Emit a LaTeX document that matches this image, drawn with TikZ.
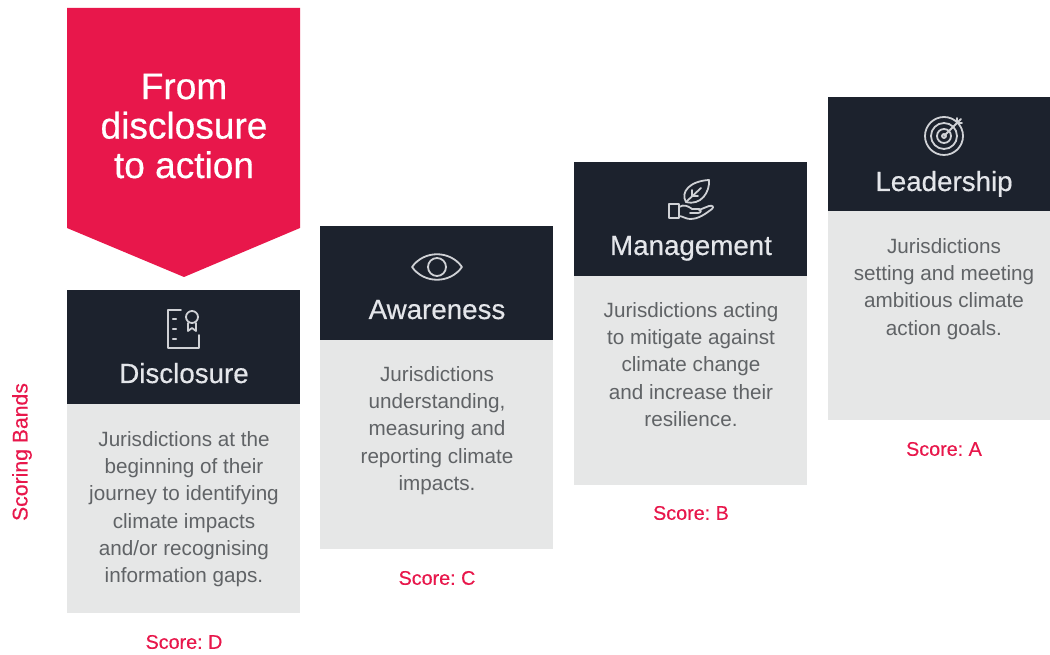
\documentclass[tikz,border=0pt]{standalone}
\usepackage{fontspec}
\setmainfont{Liberation Sans}
\newfontfamily\medfont[FakeBold=0.5]{Liberation Sans}
\newfontfamily\semifont[FakeBold=0.3]{Liberation Sans}
\frenchspacing
\definecolor{navy}{HTML}{1C222D}
\definecolor{panel}{HTML}{E6E7E7}
\definecolor{crimson}{HTML}{E8174B}
\definecolor{bodytxt}{HTML}{606366}
\definecolor{headtxt}{HTML}{E4E6EA}
\definecolor{iconc}{HTML}{CFD1D5}
\tikzset{
 x=0.75pt,y=-0.75pt,
 headbox/.style={fill=navy,draw=none,inner sep=0,outer sep=0,minimum width=174.75pt,minimum height=85.5pt,anchor=north west},
 bodybox/.style={fill=panel,draw=none,inner sep=0,outer sep=0,minimum width=174.75pt,minimum height=156.75pt,anchor=north west},
 headtext/.style={text=headtxt,font=\medfont\fontsize{20.8pt}{24pt}\selectfont,inner sep=0,anchor=base},
 bodytext/.style={text=bodytxt,font=\fontsize{15.5pt}{20.45pt}\selectfont,align=center,inner sep=0,anchor=north},
 scoretext/.style={text=crimson,font=\semifont\fontsize{14.8pt}{17pt}\selectfont,inner sep=0,anchor=center},
 icon/.style={draw=iconc,line width=1.35pt,line cap=round,line join=round},
}
\begin{document}
\begin{tikzpicture}
\useasboundingbox (0,0) rectangle (1050,655);
\fill[white] (0,0) rectangle (1050,655);
% arrow
\fill[crimson] (67,8) -- (300,8) -- (300,228) -- (184,277) -- (67,228) -- cycle;
\node[text=white,font=\medfont\fontsize{27.8pt}{29.6pt}\selectfont,align=center,inner sep=0] (title) at (184,126) {From\\disclosure\\to action};
% boxes
\node[bodybox] (bodyD) at (67,404) {};
\node[headbox] (headD) at (67,290) {};
\node[bodybox] (bodyC) at (320,340) {};
\node[headbox] (headC) at (320,226) {};
\node[bodybox] (bodyB) at (574,276) {};
\node[headbox] (headB) at (574,162) {};
\node[bodybox,minimum width=166.5pt] (bodyA) at (828,211) {};
\node[headbox,minimum width=166.5pt] (headA) at (828,97) {};
% headings
\node[headtext] (tD) at (184,383) {Disclosure};
\node[headtext] (tC) at (437,319) {Awareness};
\node[headtext] (tB) at (691,255) {Management};
\node[headtext] (tA) at (944,191) {Leadership};
% body texts
\node[bodytext] (xD) at (184,431) {Jurisdictions at the\\beginning of their\\journey to identifying\\climate impacts\\and/or recognising\\information gaps.};
\node[bodytext] (xC) at (437,366) {Jurisdictions\\understanding,\\measuring and\\reporting climate\\impacts.};
\node[bodytext] (xB) at (691,302) {Jurisdictions acting\\to mitigate against\\climate change\\and increase their\\resilience.};
\node[bodytext] (xA) at (944,238) {Jurisdictions\\setting and meeting\\ambitious climate\\action goals.};
% scores
\node[scoretext] (sD) at (184,642) {Score: D};
\node[scoretext] (sC) at (437,578) {Score: C};
\node[scoretext] (sB) at (691,513) {Score: B};
\node[scoretext] (sA) at (944,449) {Score: A};
\node[scoretext,rotate=90,font=\semifont\fontsize{15.9pt}{17pt}\selectfont] (bands) at (22,452) {Scoring Bands};
% icon: disclosure
\draw[icon] (181,310) -- (168,310) -- (168,348) -- (199,348) -- (199,335);
\foreach \yy in {319,329,339}{\draw[icon,line width=1.6pt] (173,\yy) -- (176,\yy);}
\draw[icon] (192,317) circle[radius=6];
\draw[icon] (188,323) -- (188,331) -- (192,328) -- (196,331) -- (196,323);
% icon: eye
\draw[icon] (412,267) .. controls (424,250) and (450,250) .. (462,267) .. controls (450,284) and (424,284) .. (412,267) -- cycle;
\draw[icon] (437,267) circle[radius=9];
% icon: hand & leaf
\draw[icon] (669,204) rectangle (679,218);
\draw[icon] (679,207) .. controls (684,204) and (688,206) .. (692,209) -- (699,209) .. controls (702,210) and (701,213) .. (698,213) -- (690,213);
\draw[icon] (699,210) -- (709,206) .. controls (713,205) and (714,207) .. (712,209) .. controls (705,214) and (699,219) .. (690,219) .. controls (686,219) and (682,216) .. (679,216);
\draw[icon] (686,202) .. controls (680,192) and (690,181) .. (709,180) .. controls (710,192) and (701,206) .. (686,202) -- cycle;
\draw[icon] (686,202) -- (701,188);
\draw[icon] (692,196) -- (698,196) (692,196) -- (692,190);
% icon: target
\draw[icon] (944,136) circle[radius=19];
\draw[icon] (944,136) circle[radius=13];
\draw[icon] (944,136) circle[radius=7];
\draw[icon] (944,136) circle[radius=2];
\draw[icon] (944,136) -- (961,119);
\draw[icon] (957,123) -- (957,118) (957,123) -- (962,123);
\end{tikzpicture}
\end{document}
